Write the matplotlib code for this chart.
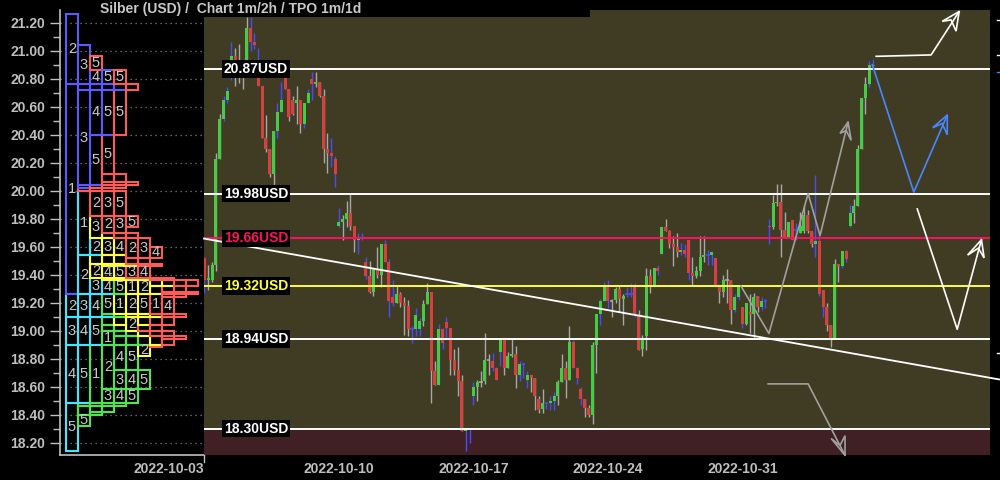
import numpy as np
import matplotlib
matplotlib.use('Agg')
import matplotlib.pyplot as plt
from matplotlib.patches import Rectangle, Polygon
from matplotlib.lines import Line2D

plt.rcParams['font.family'] = ['Liberation Sans', 'DejaVu Sans']

# ---------------- data: 2h candles, 7 per trading day, 35 per week ----------------
opens = [
    19.52, 19.36, 19.36, 19.47, 20.23, 20.51, 20.65, 20.92, 20.96, 20.92, 20.92, 20.93, 21.16, 21.06, 20.83, 20.75, 20.38, 20.30, 20.12, 20.43, 20.56, 20.81, 20.73, 20.65, 20.63, 20.65, 20.48, 20.63, 20.80, 20.76, 20.78, 20.68, 20.30, 20.27, 20.23,
    19.75, 19.78, 19.80, 19.84, 19.75, 19.65, 19.66, 19.49, 19.39, 19.28, 19.44, 19.40, 19.62, 19.49, 19.24, 19.20, 19.26, 19.20, 19.18, 19.01, 19.01, 19.01, 19.07, 19.19, 19.28, 18.71, 18.61, 19.01, 19.06, 19.02, 18.79, 18.72, 18.64, 18.28, 18.30,
    18.53, 18.60, 18.63, 18.64, 18.79, 18.78, 18.73, 18.85, 18.93, 18.73, 18.82, 18.83, 18.68, 18.76, 18.65, 18.68, 18.66, 18.51, 18.44, 18.48, 18.48, 18.50, 18.53, 18.63, 18.73, 18.65, 18.92, 18.73, 18.58, 18.51, 18.45, 18.40, 18.90, 19.12, 19.21,
    19.31, 19.21, 19.22, 19.30, 19.23, 19.26, 19.26, 19.32, 19.11, 18.87, 18.96, 19.39, 19.32, 19.45, 19.55, 19.74, 19.71, 19.62, 19.60, 19.56, 19.58, 19.65, 19.41, 19.39, 19.43, 19.53, 19.54, 19.54, 19.52, 19.32, 19.28, 19.36, 19.36, 19.15, 19.24,
    19.17, 19.05, 19.13, 19.12, 19.25, 19.17, 19.21, 19.75, 19.74, 19.91, 19.92, 19.72, 19.67, 19.79, 19.72, 19.70, 19.71, 19.83, 19.71, 19.62, 19.64, 19.29, 19.17, 19.04, 18.95, 19.48, 19.46, 19.57, 19.75, 19.84, 19.89, 20.30, 20.66, 20.76, 20.90,
]
closes = [
    19.36, 19.38, 19.47, 20.23, 20.51, 20.65, 20.71, 20.96, 20.92, 20.93, 20.93, 21.16, 21.06, 21.04, 20.75, 20.38, 20.30, 20.12, 20.43, 20.56, 20.65, 20.73, 20.53, 20.55, 20.65, 20.48, 20.63, 20.70, 20.76, 20.78, 20.68, 20.30, 20.27, 20.25, 20.12,
    19.78, 19.80, 19.84, 19.75, 19.65, 19.66, 19.66, 19.39, 19.28, 19.44, 19.40, 19.62, 19.49, 19.21, 19.20, 19.26, 19.20, 19.18, 19.01, 19.01, 19.11, 19.07, 19.19, 19.28, 18.71, 18.61, 19.01, 18.91, 19.02, 18.79, 18.72, 18.64, 18.28, 18.30, 18.30,
    18.60, 18.63, 18.63, 18.79, 18.79, 18.73, 18.65, 18.93, 18.73, 18.82, 18.83, 18.68, 18.76, 18.76, 18.68, 18.66, 18.53, 18.43, 18.48, 18.48, 18.50, 18.53, 18.63, 18.73, 18.65, 18.92, 18.73, 18.66, 18.51, 18.45, 18.40, 18.90, 19.12, 19.21, 19.32,
    19.21, 19.21, 19.30, 19.23, 19.25, 19.26, 19.26, 19.11, 18.86, 18.95, 19.39, 19.32, 19.45, 19.43, 19.74, 19.71, 19.62, 19.60, 19.56, 19.58, 19.55, 19.41, 19.39, 19.43, 19.53, 19.54, 19.54, 19.56, 19.32, 19.28, 19.36, 19.36, 19.15, 19.24, 19.31,
    19.05, 19.20, 19.12, 19.24, 19.17, 19.21, 19.21, 19.74, 19.91, 19.92, 19.72, 19.67, 19.78, 19.65, 19.72, 19.75, 19.83, 19.71, 19.62, 19.64, 19.26, 19.17, 19.04, 18.95, 19.48, 19.46, 19.57, 19.51, 19.84, 19.89, 20.30, 20.66, 20.76, 20.90, 20.89,
]
highs = [
    19.53, 19.47, 19.49, 20.27, 20.55, 20.68, 20.74, 21.06, 21.02, 21.05, 20.93, 21.24, 21.24, 21.13, 21.02, 20.75, 20.54, 20.30, 20.43, 20.63, 20.78, 20.85, 20.73, 20.68, 20.75, 20.65, 20.63, 20.73, 20.85, 20.85, 20.78, 20.73, 20.41, 20.38, 20.25,
    19.88, 19.83, 19.93, 19.98, 19.75, 19.70, 19.70, 19.53, 19.50, 19.44, 19.60, 19.62, 19.65, 19.51, 19.36, 19.33, 19.28, 19.24, 19.22, 19.03, 19.16, 19.09, 19.22, 19.34, 19.28, 18.78, 19.05, 19.02, 19.10, 19.02, 18.87, 18.88, 18.68, 18.30, 18.30,
    18.63, 18.65, 18.71, 18.98, 18.83, 18.84, 18.74, 18.95, 18.93, 18.85, 18.95, 18.89, 18.78, 18.77, 18.71, 18.68, 18.66, 18.53, 18.58, 18.48, 18.53, 18.56, 18.65, 18.83, 18.78, 19.03, 18.93, 18.74, 18.60, 18.51, 18.47, 18.92, 19.12, 19.23, 19.35,
    19.36, 19.23, 19.31, 19.33, 19.26, 19.31, 19.34, 19.34, 19.15, 18.97, 19.45, 19.44, 19.45, 19.47, 19.74, 19.80, 19.72, 19.68, 19.70, 19.63, 19.62, 19.65, 19.53, 19.46, 19.68, 19.68, 19.58, 19.56, 19.52, 19.32, 19.40, 19.44, 19.36, 19.26, 19.31,
    19.17, 19.20, 19.26, 19.27, 19.25, 19.24, 19.23, 19.80, 19.97, 20.05, 20.05, 19.85, 19.78, 19.79, 19.77, 19.85, 19.90, 19.86, 19.71, 20.11, 19.70, 19.29, 19.20, 19.04, 19.51, 19.48, 19.57, 19.58, 19.90, 19.94, 20.33, 20.66, 20.81, 20.93, 20.94,
]
lows = [
    19.27, 19.29, 19.35, 19.43, 20.23, 20.50, 20.63, 20.79, 20.75, 20.77, 20.73, 20.92, 21.00, 21.01, 20.75, 20.38, 20.28, 20.10, 20.04, 20.38, 20.56, 20.72, 20.50, 20.54, 20.48, 20.41, 20.45, 20.63, 20.65, 20.74, 20.67, 20.20, 20.13, 20.17, 20.03,
    19.74, 19.65, 19.74, 19.72, 19.56, 19.55, 19.65, 19.37, 19.27, 19.25, 19.38, 19.31, 19.49, 19.10, 19.18, 19.20, 19.17, 18.97, 18.96, 18.91, 18.96, 18.96, 19.03, 19.19, 18.48, 18.61, 18.61, 18.87, 18.95, 18.68, 18.68, 18.53, 18.28, 18.14, 18.20,
    18.47, 18.50, 18.60, 18.62, 18.68, 18.71, 18.65, 18.75, 18.68, 18.73, 18.81, 18.59, 18.64, 18.66, 18.59, 18.56, 18.43, 18.41, 18.41, 18.44, 18.43, 18.43, 18.47, 18.63, 18.52, 18.65, 18.73, 18.62, 18.47, 18.38, 18.38, 18.33, 18.70, 19.04, 19.21,
    19.16, 19.10, 19.20, 19.13, 19.04, 19.24, 19.24, 19.10, 18.86, 18.82, 18.86, 19.27, 19.31, 19.40, 19.55, 19.71, 19.59, 19.46, 19.53, 19.54, 19.53, 19.36, 19.33, 19.38, 19.39, 19.49, 19.47, 19.47, 19.31, 19.20, 19.24, 19.20, 19.05, 19.13, 19.22,
    19.02, 19.04, 18.98, 18.95, 19.13, 19.15, 19.16, 19.62, 19.73, 19.89, 19.53, 19.66, 19.66, 19.65, 19.65, 19.70, 19.70, 19.70, 19.60, 19.53, 19.25, 19.10, 19.00, 18.88, 18.94, 19.35, 19.45, 19.49, 19.74, 19.77, 19.89, 20.30, 20.55, 20.74, 20.89,
]
# wick colour per candle: b = night session (blue), g = day session (grey)
wick_codes = "bggggbb" * 25

candles_per_day = 7
days_per_week = 5
week_labels = ["2022-10-03", "2022-10-10", "2022-10-17", "2022-10-24", "2022-10-31"]
week_start_idx = [0, 35, 70, 105, 140]

levels = [20.87, 19.98, 19.66, 19.32, 18.94, 18.30]
level_colors = ["white", "white", "#ff1060", "#ffff3c", "white", "white"]
level_texts = ["20.87USD", "19.98USD", "19.66USD", "19.32USD", "18.94USD", "18.30USD"]

title = "Silber (USD) /  Chart 1m/2h / TPO 1m/1d"

# drawings (x = candle index, y = price)
trend_x = [-0.1, 207.0]
trend_y = [19.658, 18.651]
grey_path_x = [139.6, 146.9, 157.1, 160.2, 167.5]
grey_path_y = [19.32, 18.98, 19.98, 19.68, 20.49]
grey_head_x = [167.5, 165.4, 167.0, 168.3]
grey_head_y = [20.49, 20.41, 20.43, 20.36]
grey2_path_x = [146.7, 157.1, 166.7]
grey2_path_y = [18.62, 18.62, 18.11]
grey2_head_x = [166.7, 163.1, 165.4, 166.7]
grey2_head_y = [18.11, 18.23, 18.18, 18.25]
white1_path_x = [174.8, 189.1, 196.4]
white1_path_y = [20.96, 20.97, 21.28]
white1_head_x = [196.4, 192.0, 194.3, 195.6]
white1_head_y = [21.28, 21.21, 21.22, 21.14]
blue_path_x = [173.8, 184.6, 193.3]
blue_path_y = [20.90, 19.99, 20.54]
blue_head_x = [193.3, 189.5, 192.0, 193.3]
blue_head_y = [20.54, 20.45, 20.48, 20.40]
white2_path_x = [185.5, 195.9, 202.2]
white2_path_y = [19.87, 19.01, 19.65]
white2_head_x = [202.2, 198.6, 201.4, 202.9]
white2_head_y = [19.65, 19.54, 19.59, 19.52]

tpo_bin = 0.02
week_colors = ["#5a5aff", "#40e6ff", "#4ee64e", "#ffff3c", "#ff5a5a"]

# ---------------- figure ----------------
W, H = 1000, 480
fig = plt.figure(figsize=(10, 4.8), dpi=100, facecolor="black")
ymin, ymax = 18.112, 21.291
ax_bottom = (H - 455) / H
ax_height = 445 / H
axL = fig.add_axes([60 / W, ax_bottom, 144 / W, ax_height])
axM = fig.add_axes([204 / W, ax_bottom, 786 / W, ax_height])

grey_txt = "#bebebe"

# ---- left TPO panel ----
axL.set_facecolor("black")
axL.set_xlim(0, 12)
axL.set_ylim(ymin, ymax)
for s in ["top", "right"]:
    axL.spines[s].set_visible(False)
for s in ["left", "bottom"]:
    axL.spines[s].set_color("#c0c0c0")
    axL.spines[s].set_linewidth(1.2)
axL.set_xticks([])
axL.set_yticks(np.arange(18.2, 21.21, 0.2))
axL.set_yticks(np.arange(18.2, 21.25, 0.1), minor=True)
axL.yaxis.set_major_formatter(matplotlib.ticker.FormatStrFormatter("%.2f"))
axL.tick_params(axis="y", which="major", length=7, width=1, color="#c0c0c0",
                labelcolor=grey_txt, labelsize=10, pad=3.5)
axL.tick_params(axis="y", which="minor", length=5, width=1, color="#c0c0c0")
for lab in axL.get_yticklabels():
    lab.set_fontweight("bold")
axL.set_axisbelow(True)
axL.yaxis.grid(True, which="major", color="#808080", linestyle=(0, (1, 3)), linewidth=0.9)

n_days = len(opens) // candles_per_day
day_hi = [max(highs[d * candles_per_day:(d + 1) * candles_per_day]) for d in range(n_days)]
day_lo = [min(lows[d * candles_per_day:(d + 1) * candles_per_day]) for d in range(n_days)]
profile = {}
for d in range(n_days):
    b0 = int(np.floor(day_lo[d] / tpo_bin + 1e-6))
    b1 = int(np.floor(day_hi[d] / tpo_bin + 1e-6))
    for b in range(b0, b1 + 1):
        profile.setdefault(b, []).append(d)
bmin, bmax = min(profile), max(profile)
maxcol = max(len(v) for v in profile.values())


def draw_box(k, bs, be, d):
    col = week_colors[d // days_per_week]
    y0 = bs * tpo_bin
    hgt = (be - bs + 1) * tpo_bin
    axL.add_patch(Rectangle((k + 0.5, y0), 1, hgt, facecolor="none",
                            edgecolor=col, linewidth=1.5, zorder=3))
    if be - bs + 1 >= 4:
        axL.text(k + 1.0, y0 + hgt / 2, str(d % days_per_week + 1), ha="center",
                 va="center", color="#c8c8c8", fontsize=10.5, zorder=4)


for k in range(maxcol):
    run_d, run_s = None, None
    for b in range(bmin, bmax + 2):
        lst = profile.get(b, [])
        dd = lst[k] if k < len(lst) else None
        if dd != run_d:
            if run_d is not None:
                draw_box(k, run_s, b - 1, run_d)
            run_d, run_s = dd, b

# ---- main chart ----
axM.set_facecolor("#3f3c23")
xmax = -0.1 + 786 / 3.843
axM.set_xlim(-0.1, xmax)
axM.set_ylim(ymin, ymax)
for s in axM.spines.values():
    s.set_visible(False)
axM.set_yticks([])
axM.axhspan(ymin, 18.30, color="#402024", zorder=0)

xs = np.arange(len(opens))
wick_cols = ["#4a4aff" if c == "b" else "#a8a8a8" for c in wick_codes[:len(opens)]]
axM.vlines(xs, lows, highs, colors=wick_cols, linewidth=1.0, zorder=2)
o = np.array(opens)
c = np.array(closes)
up = c > o
dn = c < o
eq = c == o
axM.bar(xs[up], (c - o)[up], bottom=o[up], width=0.78, color="#44cc44", zorder=2.5)
axM.bar(xs[dn], (c - o)[dn], bottom=o[dn], width=0.78, color="#d84040", zorder=2.5)
axM.hlines(o[eq], xs[eq] - 0.45, xs[eq] + 0.45,
           colors=[wick_cols[i] for i in xs[eq]], linewidth=1.2, zorder=2.5)

for lv, lc, lt in zip(levels, level_colors, level_texts):
    axM.axhline(lv, color=lc, linewidth=1.4, zorder=3)
    axM.text(5.1, lv, lt, color=lc, fontsize=10, fontweight="bold", ha="left",
             va="center", zorder=5,
             bbox=dict(facecolor="black", edgecolor="none", pad=1.2))

axM.plot(trend_x, trend_y, color="white", linewidth=1.3, zorder=3, clip_on=False)


def path(px, py, col):
    axM.plot(px, py, color=col, linewidth=1.2, zorder=4, clip_on=False)


def head(hx, hy, col):
    axM.add_patch(Polygon(list(zip(hx, hy)), closed=True, fill=False,
                          edgecolor=col, linewidth=1.2, zorder=4, clip_on=False))


path(grey_path_x, grey_path_y, "#a0a0a0")
head(grey_head_x, grey_head_y, "#a0a0a0")
path(grey2_path_x, grey2_path_y, "#a0a0a0")
head(grey2_head_x, grey2_head_y, "#a0a0a0")
path(white1_path_x, white1_path_y, "white")
head(white1_head_x, white1_head_y, "white")
path(blue_path_x, blue_path_y, "#4a86ff")
head(blue_head_x, blue_head_y, "#4a86ff")
path(white2_path_x, white2_path_y, "white")
head(white2_head_x, white2_head_y, "white")

axM.set_xticks(week_start_idx)
axM.set_xticklabels(week_labels)
axM.tick_params(axis="x", length=0, pad=5, labelcolor=grey_txt, labelsize=10)
for i, lab in enumerate(axM.get_xticklabels()):
    lab.set_fontweight("bold")
    if i == 0:
        lab.set_horizontalalignment("right")

# small tick under first date
fig.add_artist(Line2D([204 / W, 204 / W], [1 - 455 / H, 1 - 462 / H],
                      color="#c0c0c0", linewidth=1))
# small marks at right edge
for yy, cc in [(20, "white"), (55, "white"), (72, "#4a86ff"), (353, "white")]:
    fig.add_artist(Line2D([997 / W, 1.0], [1 - yy / H, 1 - yy / H], color=cc, linewidth=1))

# title band
fig.add_artist(Rectangle((95 / W, 1 - 16.5 / H), (590 - 95) / W, 16.5 / H,
                         transform=fig.transFigure, facecolor="black",
                         edgecolor="none", zorder=10))
fig.text(100 / W, 1 - 8.5 / H, title, color="#c8c8c8", fontsize=10,
         fontweight="bold", ha="left", va="center", zorder=11)

fig.savefig("out.png", dpi=100, facecolor="black")
